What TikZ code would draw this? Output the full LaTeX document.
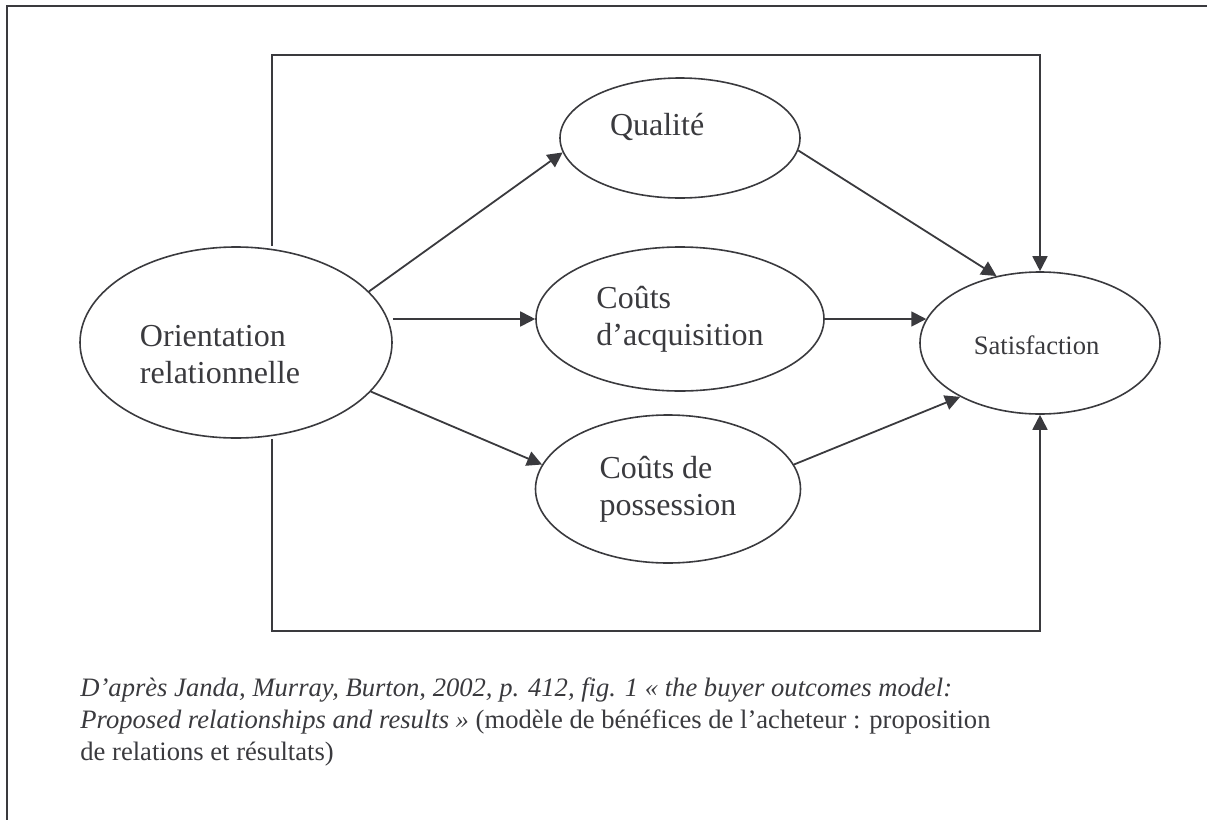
\documentclass[tikz,border=0pt]{standalone}
\usepackage{fontspec}
\setmainfont{Liberation Serif}
\usepackage{tikz}
\usetikzlibrary{shapes.geometric, arrows.meta, positioning, calc}

\definecolor{ink}{HTML}{3A3A3E}

\begin{document}
\begin{tikzpicture}[
  x=0.5pt, y=-0.5pt,
  % Ellipse style; size supplied per node as oval={<width>}{<height>}
  oval/.style 2 args={
    ellipse, draw=ink, line width=0.8pt,
    minimum width=#1, minimum height=#2,
    inner sep=0pt, text=ink, align=left,
    font=\fontsize{16}{18.4}\selectfont
  },
  arr/.style={-{Triangle[length=7.5pt,width=7.5pt]}, ink, line width=0.9pt},
  frame/.style={draw=ink, line width=1pt},
]

\useasboundingbox (0,0) rectangle (1207,820);

%% ── Outer page frame ──────────────────────────────────────────────────────
\draw[frame] (7,820) -- (7,6) -- (1207,6);

%% ── Left: source construct ────────────────────────────────────────────────
\node[oval={156pt}{95.5pt}, text width=96pt, text height=23pt] (orient) at (236,342.5) {
  Orientation\\
  relationnelle
};

%% ── Middle column: three mediators ────────────────────────────────────────
\node[oval={120pt}{60pt}, text width=70pt, text height=16pt] (qual) at (680,138) {
  Qualité\\ \mbox{}
};

\node[oval={144pt}{72pt}] (acq) at (680,319) {
  Coûts\\
  d’acquisition
};

\node[oval={132.5pt}{74pt}] (poss) at (668,489) {
  Coûts de\\
  possession
};

%% ── Right: outcome ────────────────────────────────────────────────────────
\node[oval={120pt}{71pt}, font=\fontsize{13.3}{15.3}\selectfont,
      text height=12pt] (sat) at (1040,343) {
  Satisfaction
};

%% ── Corners of the direct-effect loop ─────────────────────────────────────
\coordinate (tl) at (272,55);
\coordinate (tr) at (1040,55);
\coordinate (bl) at (272,631);
\coordinate (br) at (1040,631);

%% ── Arrows ────────────────────────────────────────────────────────────────
\draw[arr] (orient.21)  -- (qual.187);
\draw[arr] (orient.east |- acq.west) -- (acq.west);
\draw[arr] (orient.-20) -- (poss.169);
\draw[arr] (qual.-6)    -- (sat.123);
\draw[arr] (acq.east)   -- (acq.east -| sat.168);
\draw[arr] (poss.11)    -- (sat.214);
\draw[arr] (orient.north -| tl) -- (tl) -- (tr) -- (sat.north);
\draw[arr] (orient.south -| bl) -- (bl) -- (br) -- (sat.south);

%% ── Source note ───────────────────────────────────────────────────────────
\node[anchor=base west, align=left, text=ink, inner sep=0pt,
      font=\fontsize{13.3}{15.8}\selectfont] (src) at (80,760) {
  \textit{D’après Janda, Murray, Burton, 2002, p. 412, fig. 1 « the buyer outcomes model:}\\
  \textit{Proposed relationships and results »} (modèle de bénéfices de l’acheteur : proposition\\
  de relations et résultats)
};

\end{tikzpicture}
\end{document}
